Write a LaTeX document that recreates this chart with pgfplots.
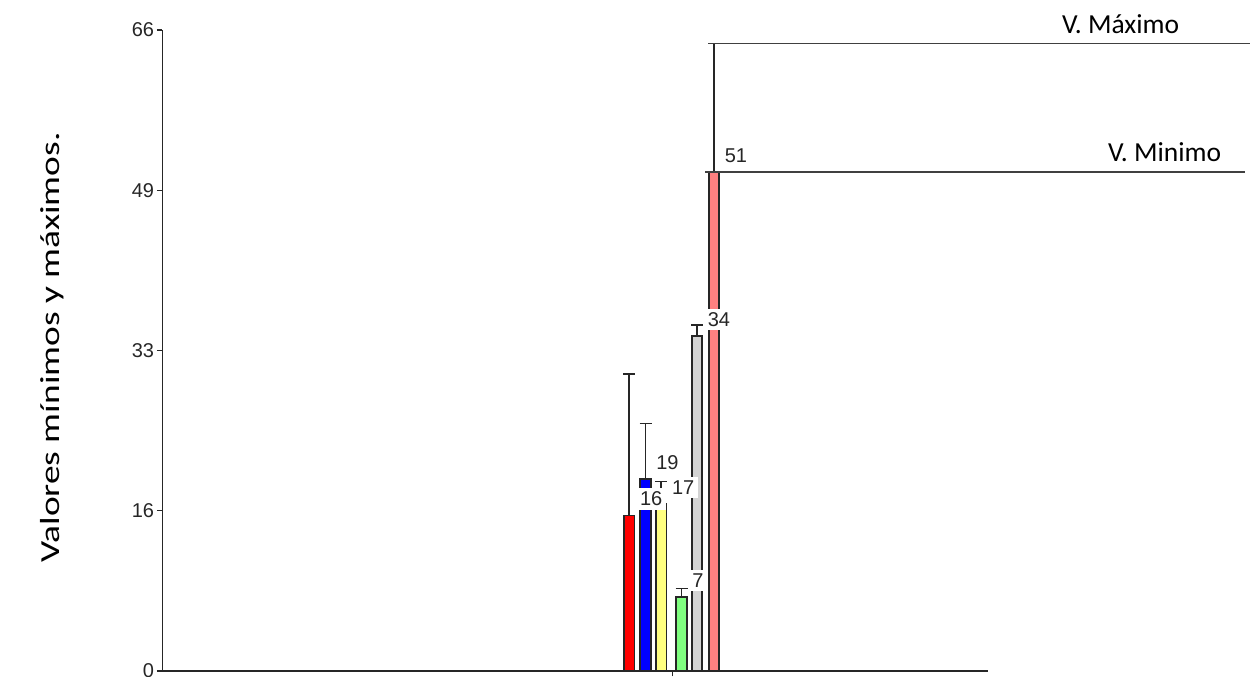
\documentclass[border=0pt]{standalone}
\usepackage{graphicx}
\usepackage{fontspec}
\setmainfont{Carlito}
\newfontfamily\arial{Liberation Sans}
\usepackage{pgfplots}
\pgfplotsset{compat=1.18}
\definecolor{cRed}{HTML}{FF0000}
\definecolor{cBlue}{HTML}{0000FF}
\definecolor{cYellow}{HTML}{FFFF80}
\definecolor{cGreen}{HTML}{80FF80}
\definecolor{cGray}{HTML}{D3D3D3}
\definecolor{cPink}{HTML}{FF8080}
\pgfplotsset{
  mybar/.style={ybar, bar width=10.5, bar shift=0pt, draw=black!85, line width=0.65pt,
    error bars/y dir=plus, error bars/y explicit,
    error bars/error bar style={line width=0.65pt, black!85},
    error bars/error mark options={rotate=90, mark size=2.4pt, line width=0.65pt, black!85}},
}
\begin{document}
\begin{tikzpicture}
\begin{axis}[
  scale only axis, width=330.2pt, height=256.4pt,
  xmin=-509.8, xmax=315.7, ymin=0, ymax=66,
  axis lines*=left,
  axis line style={line width=0.6pt, black!85},
  xtick={0}, xticklabels={},
  ytick={0,16.5,33,49.5,66}, yticklabels={0,16,33,49,66},
  tick align=outside, major tick length=2.2pt,
  tick style={line width=0.6pt, black!85},
  /pgf/number format/assume math mode=true,
  yticklabel style={font=\arial\fontsize{8}{9.5}\selectfont, text=black!85, inner sep=1pt},
  clip=false,
]
\addplot[mybar, fill=cRed] table[x=x, y=y, y error plus=e] {
x y e
-43 16.0 14.6
};
\addplot[mybar, fill=cBlue] table[x=x, y=y, y error plus=e] {
x y e
-26.8 19.8 5.7
};
\addplot[mybar, fill=cYellow] table[x=x, y=y, y error plus=e] {
x y e
-11 17.2 2.3
};
\addplot[mybar, fill=cGreen] table[x=x, y=y, y error plus=e] {
x y e
9.2 7.6 0.9
};
\addplot[mybar, fill=cGray] table[x=x, y=y, y error plus=e] {
x y e
24.7 34.5 1.1
};
\addplot[mybar, fill=cPink] table[x=x, y=y, y error plus=e] {
x y e
41.7 51.4 13.2
};
% reference lines
\addplot[line width=0.6pt, black!75, mark=none] coordinates {(35.7,64.6) (577.7,64.6)};
\addplot[line width=0.6pt, black!75, mark=none] coordinates {(32.7,51.4) (572.7,51.4)};
% value labels
\addplot[draw=none, nodes near coords, point meta=explicit symbolic,
  nodes near coords style={anchor=south west, xshift=2.6pt, yshift=2.1pt, fill=white,
    inner sep=1.5pt, font=\arial\fontsize{8}{9.5}\selectfont, text=black!85}]
  table[x=x, y=y, meta=l] {
x y l
-43 16.0 16
-26.8 19.8 19
-11 17.2 17
9.2 7.6 7
24.7 34.5 34
41.7 51.4 51
};
\node[anchor=base east, font=\fontsize{11}{13}\selectfont] at (axis cs:515.7,65.66) {V. Máximo};
\node[anchor=base east, font=\fontsize{11}{13}\selectfont] at (axis cs:557.7,52.44) {V. Minimo};
\node[rotate=90, anchor=center, font=\fontsize{11}{13}\selectfont] at (axis cs:-620.3,33.31) {\scalebox{1.36}[1]{Valores mínimos y máximos.}};
\coordinate (bl) at (axis cs:-672.3,-0.618);
\coordinate (tr) at (axis cs:577.7,69.09);
\end{axis}
\pgfresetboundingbox
\path[use as bounding box] (bl) rectangle (tr);
\end{tikzpicture}
\end{document}
